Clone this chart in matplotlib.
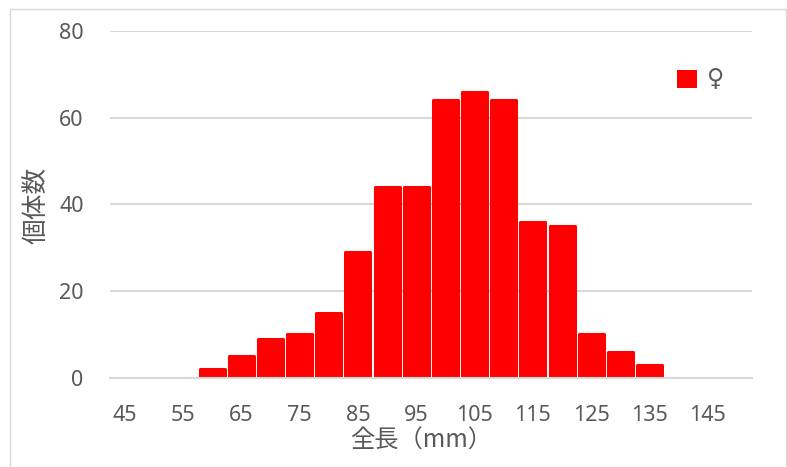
import matplotlib
matplotlib.use("Agg")
import matplotlib.pyplot as plt
from matplotlib.patches import Rectangle

# body length classes (mm) and number of females in each
lengths = [45, 50, 55, 60, 65, 70, 75, 80, 85, 90, 95,
           100, 105, 110, 115, 120, 125, 130, 135, 140, 145, 150]
counts = [0, 0, 0, 2, 5, 9, 10, 15, 29, 44, 44,
          64, 66, 64, 36, 35, 10, 6, 3, 0, 0, 0]
yticks = [0, 20, 40, 60, 80]

plt.rcParams['font.family'] = ['Noto Sans', 'Noto Sans CJK JP', 'DejaVu Sans']
text_color = '#595959'
grid_color = '#D9D9D9'

W, H = 787, 467
fig = plt.figure(figsize=(W / 100, H / 100), dpi=100)

# outer chart frame
fig.patches.append(Rectangle((10 / W, -0.01), 776 / W, 458 / H + 0.01,
                             transform=fig.transFigure, fill=False,
                             edgecolor=grid_color, linewidth=1))

ax = fig.add_axes([110 / W, 89.3 / H, 641.7 / W, 346.7 / H])

x = list(range(len(lengths)))
lw = [2.2 if c > 0 else 0 for c in counts]
ax.bar(x, counts, width=0.86, color='#FF0000', edgecolor='#FF0000',
       linewidth=lw, joinstyle='round', label='♀')

ax.set_xlim(-0.5, len(lengths) - 0.5)
ax.set_ylim(0, 80)
ax.set_yticks(yticks)
ax.set_xticks(x)
ax.set_xticklabels([str(v) if i % 2 == 0 else '' for i, v in enumerate(lengths)])

ax.tick_params(axis='x', length=0, pad=20, labelsize=15.5, labelcolor=text_color)
ax.tick_params(axis='y', length=0, pad=19, labelsize=15.5, labelcolor=text_color)

ax.set_axisbelow(True)
ax.yaxis.grid(True, color=grid_color, linewidth=1.5)
for s in ['top', 'right', 'left']:
    ax.spines[s].set_visible(False)
ax.spines['bottom'].set_color(grid_color)
ax.spines['bottom'].set_linewidth(1.5)

fig.text(421 / W, 1 - 441 / H, '全長（mm）',
         family=['Noto Sans CJK JP', 'DejaVu Sans'],
         ha='center', va='center', fontsize=17.5, color=text_color)
fig.text(36 / W, 1 - 205 / H, '個体数',
         family=['Noto Sans CJK JP', 'DejaVu Sans'],
         ha='center', va='center', rotation=90, fontsize=18.5, color=text_color)

leg = ax.legend(loc='center left', bbox_to_anchor=(677 / W, 1 - 79 / H),
                bbox_transform=fig.transFigure, frameon=False, fontsize=15,
                handlelength=0.95, handleheight=0.95, handletextpad=0.5,
                borderpad=0, borderaxespad=0, labelcolor=text_color)
for t in leg.get_texts():
    t.set_family(['DejaVu Sans'])
    t.set_fontsize(17)

fig.savefig('out.png', dpi=100)
